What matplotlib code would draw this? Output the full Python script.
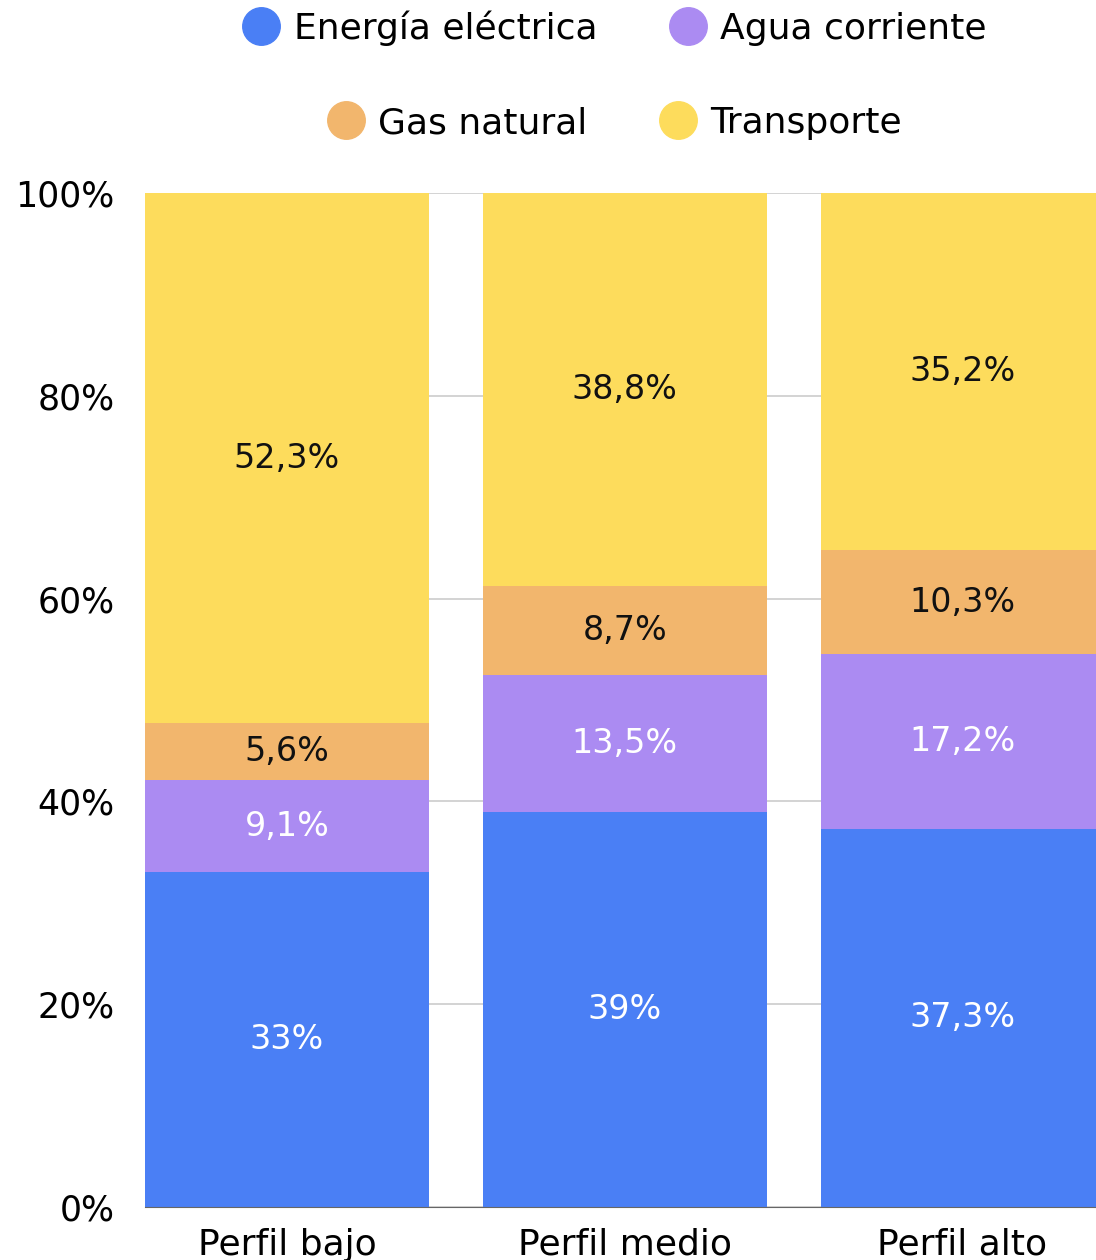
import matplotlib.pyplot as plt
from matplotlib.lines import Line2D
import numpy as np

plt.rcParams['font.family'] = ['DejaVu Sans']

categories = ["Perfil bajo", "Perfil medio", "Perfil alto"]
series_names = ["Energía eléctrica", "Agua corriente", "Gas natural", "Transporte"]
energia = [33.0, 39.0, 37.3]
agua = [9.1, 13.5, 17.2]
gas = [5.6, 8.7, 10.3]
transporte = [52.3, 38.8, 35.2]
y_ticks = [0, 20, 40, 60, 80, 100]

colors = ["#4a7ff5", "#ab8bf2", "#f2b66d", "#fddc5c"]
label_colors = ["white", "white", "#111111", "#111111"]


def fmt(v):
    s = ("%.1f" % v).rstrip("0").rstrip(".")
    return s.replace(".", ",") + "%"


fig = plt.figure(figsize=(10.96, 12.6), dpi=100)
ax = fig.add_axes([145 / 1096, 53 / 1260, 951 / 1096, 1014 / 1260])

series = [energia, agua, gas, transporte]
x = np.arange(len(categories))
bottom = np.zeros(len(categories))
for vals, col, tcol in zip(series, colors, label_colors):
    vals = np.array(vals)
    ax.bar(x, vals, 0.84, bottom=bottom, color=col, zorder=2)
    for xi, b, v in zip(x, bottom, vals):
        ax.text(xi, b + v / 2, fmt(v), ha="center", va="center",
                fontsize=24, color=tcol, zorder=3)
    bottom += vals

ax.set_xlim(-0.42, 2.395)
ax.set_ylim(0, 100)
ax.set_yticks(y_ticks)
ax.set_yticklabels([f"{t}%" for t in y_ticks], fontsize=25)
ax.set_xticks(x)
ax.set_xticklabels(categories, fontsize=26)
ax.tick_params(length=0)
ax.tick_params(axis="y", pad=22)
ax.tick_params(axis="x", pad=15)
ax.grid(axis="y", color="#cccccc", linewidth=1.2, zorder=0)
for s in ["top", "left", "right"]:
    ax.spines[s].set_visible(False)
ax.spines["bottom"].set_color("#666666")
ax.spines["bottom"].set_zorder(4)

handles = [Line2D([], [], marker="o", linestyle="", markersize=27,
                  markerfacecolor=c, markeredgecolor=c) for c in colors]
kw = dict(ncol=2, frameon=False, loc="center", fontsize=26,
          handletextpad=0.4, columnspacing=2.0, handlelength=1.0)
fig.legend(handles[:2], series_names[:2],
           bbox_to_anchor=(615 / 1096, 1 - 28 / 1260), **kw)
fig.legend(handles[2:], series_names[2:],
           bbox_to_anchor=(615 / 1096, 1 - 123 / 1260), **kw)

fig.savefig("out.png", dpi=100)
